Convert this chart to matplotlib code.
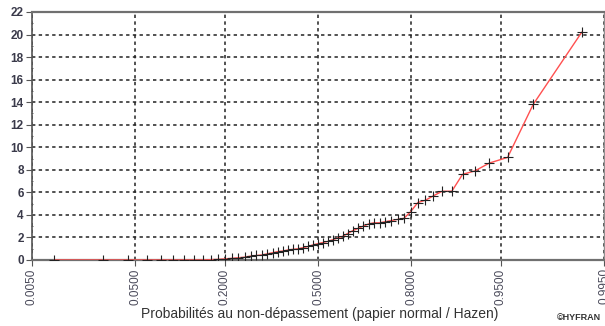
import matplotlib
matplotlib.use('Agg')
import matplotlib.pyplot as plt
import numpy as np
from statistics import NormalDist

# observed values, sorted ascending (57 values)
values = [0.0, 0.0, 0.0, 0.0, 0.0, 0.0, 0.0, 0.0, 0.0,
          0.03, 0.06, 0.1, 0.15, 0.2, 0.25, 0.35, 0.4, 0.45, 0.55,
          0.65, 0.75, 0.8, 0.9, 0.95, 1.0, 1.1, 1.2, 1.35, 1.45,
          1.55, 1.65, 1.8, 1.95, 2.1, 2.35, 2.6, 2.8, 3.0, 3.2,
          3.3, 3.3, 3.4, 3.5, 3.6, 3.7, 4.3, 5.1, 5.3, 5.7,
          6.1, 6.1, 7.6, 7.9, 8.6, 9.1, 13.8, 20.2]
prob_ticks = [0.005, 0.05, 0.2, 0.5, 0.8, 0.95, 0.995]
y_ticks = list(range(0, 23, 2))

nd = NormalDist()
n = len(values)
# Hazen plotting positions
hazen = [(i - 0.5) / n for i in range(1, n + 1)]
xs = [nd.inv_cdf(p) for p in hazen]
xt = [nd.inv_cdf(p) for p in prob_ticks]

plt.rcParams['font.family'] = ['Liberation Sans', 'DejaVu Sans']

fig = plt.figure(figsize=(6.05, 3.26), dpi=100)
ax = fig.add_axes([32/605, 66/326, 572/605, 248/326])

ax.plot(xs, values, color='#ff5050', lw=1.0, zorder=3)
ax.plot(xs, values, ls='none', marker='+', ms=7, mew=0.8, color='#222222', zorder=4)

ax.set_xlim(xt[0], xt[-1])
ax.set_ylim(0, 22)
ax.set_xticks(xt)
ax.set_xticklabels(['%.4f' % p for p in prob_ticks], rotation=90,
                   fontsize=8.5, color='#4a4a5a')
ax.set_yticks(y_ticks)
ax.set_yticklabels([str(v) for v in y_ticks], fontsize=8.5,
                   fontweight='bold', color='#3a3a4a')
ax.set_yticks(range(1, 22, 2), minor=True)
ax.tick_params(axis='y', which='minor', length=2, direction='inout', color='#555555')
ax.tick_params(axis='y', which='major', length=4, pad=2, color='#555555')
ax.tick_params(axis='x', length=4, pad=2, color='#555555')

ax.grid(True, color='#222222', ls=(0, (2.2, 2.2)), lw=1.1)
for s in ['top', 'bottom']:
    ax.spines[s].set_color('#707070')
    ax.spines[s].set_linewidth(1.6)
ax.spines['left'].set_color('#555555')
ax.spines['left'].set_linewidth(1.2)
ax.spines['right'].set_color('#909090')
ax.spines['right'].set_linewidth(1.0)

fig.text(320/605, 1 - 314/326, 'Probabilités au non-dépassement (papier normal / Hazen)',
         ha='center', va='center', fontsize=10, color='#333333')
fig.text(557/605, 1 - 318/326, '©HYFRAN', ha='left', va='center',
         fontsize=6.5, fontweight='bold', color='#333333')

fig.savefig('out.png', dpi=100)
